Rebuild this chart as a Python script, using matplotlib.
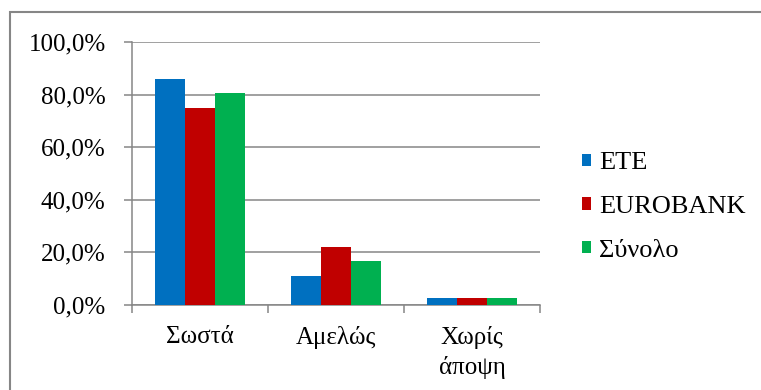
import matplotlib
matplotlib.use("Agg")
import matplotlib.pyplot as plt
import numpy as np
from matplotlib.patches import Rectangle
from matplotlib.font_manager import FontProperties

FAM = ['Liberation Serif', 'DejaVu Serif']
plt.rcParams['font.family'] = FAM

categories = ["Σωστά", "Αμελώς", "Χωρίς\nάποψη"]
series_names = ["ETE", "EUROBANK", "Σύνολο"]
ete = [86.1, 11.1, 2.8]
eurobank = [75.0, 22.2, 2.8]
synolo = [80.6, 16.7, 2.8]
yticks = [0, 20, 40, 60, 80, 100]
ytick_labels = ["0,0%", "20,0%", "40,0%", "60,0%", "80,0%", "100,0%"]
colors = ["#0070C0", "#C00000", "#00B050"]

W, H = 761, 390
fig = plt.figure(figsize=(W / 100, H / 100), dpi=100)

# outer chart border (right/bottom cut off)
fig.patches.append(Rectangle((10 / W, -0.1), 2.0, 1 - 12 / H + 0.1,
                             transform=fig.transFigure, fill=False,
                             edgecolor="#868686", linewidth=1.5))

ax = fig.add_axes([132 / W, 1 - 305 / H, (540 - 132) / W, (305 - 42) / H])

x = np.arange(len(categories))
bw = 0.221
for i, (vals, name) in enumerate(zip([ete, eurobank, synolo], series_names)):
    ax.bar(x + (i - 1) * bw, vals, width=bw, color=colors[i], label=name,
           zorder=3, edgecolor="none")

ax.set_xlim(-0.5, 2.5)
ax.set_ylim(0, 100)
ax.set_yticks(yticks)
ax.set_yticklabels(ytick_labels, fontsize=18, family=FAM)
ax.yaxis.grid(True, color="#868686", linewidth=1.1, zorder=0)
ax.set_axisbelow(True)

# category labels at centers, tick marks at boundaries
ax.set_xticks([-0.5, 0.5, 1.5, 2.5])
ax.set_xticklabels([])
ax.set_xticks(x, minor=True)
ax.set_xticklabels(categories, minor=True, fontsize=18, family=FAM,
                   linespacing=1.38)
ax.tick_params(axis='x', which='major', length=6, width=1.1, color="#868686")
ax.tick_params(axis='x', which='minor', length=0, pad=15)
ax.tick_params(axis='y', length=6, width=1.1, color="#868686", pad=13)

for s in ["top", "right"]:
    ax.spines[s].set_visible(False)
for s in ["left", "bottom"]:
    ax.spines[s].set_color("#868686")
    ax.spines[s].set_linewidth(1.1)

leg = fig.legend(loc="center left", bbox_to_anchor=(582 / W, 1 - 207 / H),
                 frameon=False, prop=FontProperties(family=FAM, size=19),
                 handlelength=0.33, handleheight=0.33, handletextpad=0.33,
                 labelspacing=0.82, borderpad=0, borderaxespad=0)

fig.savefig("out.png", dpi=100)
